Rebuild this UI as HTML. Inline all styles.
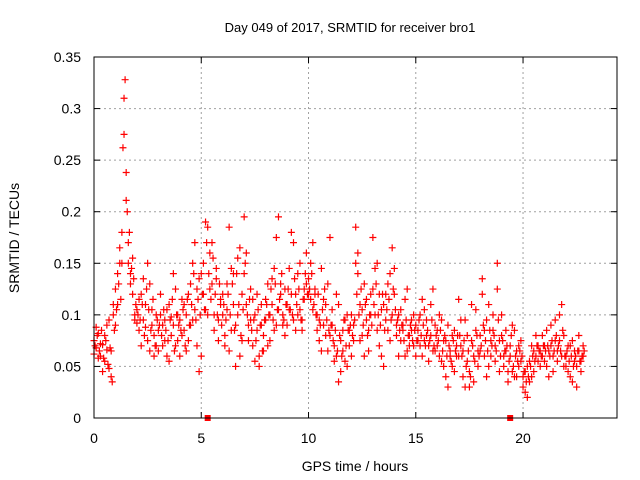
<!DOCTYPE html>
<html><head><meta charset="utf-8"><style>
body{margin:0;background:#fff}
svg{display:block;font-family:"Liberation Sans",sans-serif}
</style></head><body>
<svg id="chart" width="640" height="480">
<text x="350" y="32" font-size="13" text-anchor="middle">Day 049 of 2017, SRMTID for receiver bro1</text>
<text x="355" y="471" font-size="14" text-anchor="middle">GPS time / hours</text>
<text transform="translate(19,238) rotate(-90)" font-size="14" text-anchor="middle">SRMTID / TECUs</text>
<g id="grid"></g><g id="ticks"></g><g id="marks"></g>
<rect x="94" y="57" width="523" height="361" fill="none" stroke="#000" stroke-width="1"/>
</svg>
<script>
const xTicks=[0,5,10,15,20];
const yTicks=[0,0.05,0.1,0.15,0.2,0.25,0.3,0.35];
const yTickLabels=["0","0.05","0.1","0.15","0.2","0.25","0.3","0.35"];
const startHour=0, stepHours=0.1, offsetC=0.05;
const seriesA=[
.075,.068,.082,.060,.071,.055,.090,.048,.065,.100,
.125,.140,.165,.180,.310,.211,.150,.140,.120,.095,
.105,.085,.120,.095,.110,.075,.130,.090,.060,.100,
.085,.100,.070,.095,.060,.110,.080,.090,.125,.075,
.095,.080,.110,.065,.120,.090,.150,.105,.070,.135,
.140,.120,.105,.185,.160,.130,.100,.145,.075,.110,
.100,.080,.130,.065,.145,.110,.090,.155,.060,.120,
.195,.110,.090,.125,.070,.100,.085,.060,.110,.080,
.095,.130,.075,.110,.145,.090,.195,.120,.100,.080,
.110,.145,.180,.095,.120,.100,.150,.085,.115,.130,
.135,.115,.170,.120,.100,.075,.145,.090,.110,.065,
.175,.090,.070,.060,.110,.045,.085,.055,.100,.070,
.060,.090,.185,.140,.110,.080,.130,.095,.065,.120,
.175,.145,.085,.120,.060,.110,.095,.130,.075,.165,
.120,.090,.100,.075,.085,.115,.065,.080,.095,.070,
.060,.085,.070,.115,.075,.095,.055,.080,.125,.065,
.085,.060,.095,.050,.075,.030,.065,.080,.045,.070,
.115,.070,.040,.095,.055,.030,.075,.060,.105,.050,
.080,.135,.060,.095,.050,.075,.100,.070,.150,.045,
.100,.060,.085,.045,.070,.090,.040,.065,.050,.075,
.030,.045,.020,.055,.040,.065,.060,.070,.050,.080,
.055,.085,.040,.070,.060,.095,.065,.075,.110,.050,
.060,.045,.070,.035,.065,.050,.080,.055,.060];
const seriesB=[
.062,.088,.058,.072,.045,.080,.066,.095,.040,.110,
.090,.110,.150,.150,.275,.238,.170,.130,.155,.100,
.092,.115,.070,.135,.088,.150,.065,.105,.080,.070,
.065,.120,.090,.075,.105,.055,.098,.140,.070,.100,
.060,.115,.085,.100,.075,.130,.095,.170,.125,.045,
.060,.150,.190,.100,.125,.170,.085,.135,.095,.115,
.120,.070,.105,.185,.085,.140,.050,.100,.165,.075,
.140,.160,.075,.095,.115,.055,.120,.050,.090,.065,
.115,.070,.100,.135,.085,.175,.105,.130,.090,.125,
.090,.105,.120,.170,.085,.140,.105,.095,.125,.160,
.120,.150,.105,.125,.085,.095,.065,.115,.080,.130,
.080,.105,.055,.120,.035,.075,.065,.095,.050,.085,
.100,.075,.150,.160,.075,.105,.060,.115,.085,.100,
.125,.100,.150,.070,.105,.050,.120,.085,.140,.100,
.145,.080,.060,.105,.090,.060,.125,.070,.085,.100,
.090,.075,.100,.060,.105,.080,.070,.110,.065,.090,
.070,.100,.055,.075,.040,.090,.060,.050,.085,.060,
.060,.095,.065,.030,.080,.045,.110,.035,.085,.065,
.065,.120,.085,.040,.110,.060,.085,.055,.125,.075,
.080,.050,.065,.035,.060,.045,.085,.040,.070,.055,
.040,.025,.050,.035,.070,.045,.080,.055,.065,.060,
.070,.050,.065,.090,.045,.075,.055,.100,.060,.080,
.050,.070,.040,.075,.055,.030,.065,.045,.070];
const seriesC=[
.070,.080,.065,.085,.058,.075,.052,.068,.035,.085,
.105,.130,.115,.262,.328,.200,.180,.145,.135,.110,
.100,.095,.110,.080,.125,.105,.085,.115,.070,.095,
.090,.080,.105,.085,.075,.095,.115,.065,.100,.090,
.085,.105,.070,.115,.090,.110,.140,.095,.115,.100,
.120,.105,.170,.140,.115,.155,.120,.100,.130,.090,
.110,.095,.120,.100,.130,.085,.140,.110,.080,.105,
.150,.100,.115,.085,.095,.075,.105,.090,.065,.095,
.110,.100,.125,.095,.130,.105,.115,.140,.095,.110,
.125,.105,.100,.135,.110,.125,.095,.115,.140,.120,
.125,.140,.110,.100,.120,.090,.105,.125,.095,.085,
.090,.075,.085,.065,.080,.060,.095,.070,.085,.090,
.080,.095,.120,.100,.125,.090,.110,.080,.100,.090,
.110,.130,.100,.090,.120,.085,.105,.115,.095,.125,
.105,.095,.085,.090,.075,.095,.080,.090,.075,.085,
.075,.095,.080,.090,.070,.085,.075,.095,.070,.080,
.075,.085,.065,.080,.060,.070,.055,.075,.065,.080,
.080,.060,.075,.050,.065,.040,.070,.055,.080,.060,
.070,.090,.075,.065,.085,.070,.080,.065,.095,.060,
.075,.065,.070,.055,.080,.050,.060,.055,.065,.060,
.045,.035,.040,.050,.060,.055,.070,.065,.060,.070,
.065,.070,.060,.075,.065,.080,.070,.065,.085,.060,
.065,.055,.060,.050,.060,.065,.055,.060,.065];
const gapHours=[5.3,19.4];

const X0=94,X1=617,Y0=418,Y1=57,XMAX=24.38,YMAX=0.35;
const xs=v=>X0+v/XMAX*(X1-X0);
const ys=v=>Y0-v/YMAX*(Y0-Y1);
const NS="http://www.w3.org/2000/svg";
function mk(tag,parent,attrs){const e=document.createElementNS(NS,tag);for(const k in attrs)e.setAttribute(k,attrs[k]);parent.appendChild(e);return e;}
const grid=document.getElementById('grid'),ticks=document.getElementById('ticks'),marks=document.getElementById('marks');
xTicks.forEach(t=>{const x=xs(t);
 if(t>0){const g=mk('line',grid,{x1:x,x2:x,y1:Y1,y2:Y0,stroke:'#a0a0a0','stroke-dasharray':'2,3'});
 
 }
 mk('line',ticks,{x1:x,x2:x,y1:Y0,y2:Y0-6,stroke:'#000'});
 mk('line',ticks,{x1:x,x2:x,y1:Y1,y2:Y1+6,stroke:'#000'});
 const l=mk('text',ticks,{x:x,y:Y0+25,'font-size':14,'text-anchor':'middle'});l.textContent=t;
 
 
});
yTicks.forEach((t,i)=>{const y=ys(t);
 if(t>0&&t<YMAX){const g=mk('line',grid,{x1:X0,x2:X1,y1:y,y2:y,stroke:'#a0a0a0','stroke-dasharray':'2,3'});
 
 }
 mk('line',ticks,{x1:X0,x2:X0+6,y1:y,y2:y,stroke:'#000'});
 mk('line',ticks,{x1:X1,x2:X1-6,y1:y,y2:y,stroke:'#000'});
 const l=mk('text',ticks,{x:X0-13,y:y+5,'font-size':14,'text-anchor':'end'});l.textContent=yTickLabels[i];
 
 
});
function cross(v,t,name){const x=xs(t),y=ys(v);
 const p=mk('path',marks,{d:`M${x-3.5},${y}h7M${x},${y-3.5}v7`,stroke:'#f00','stroke-width':1.2});
 
 }
seriesA.forEach((v,i)=>cross(v,startHour+i*stepHours,'point-a'));
seriesB.forEach((v,i)=>cross(v,startHour+i*stepHours,'point-b'));
seriesC.forEach((v,i)=>cross(v,startHour+offsetC+i*stepHours,'point-c'));
gapHours.forEach(h=>{const r=mk('rect',marks,{x:xs(h)-3,y:Y0-3,width:6,height:6,fill:'#f00'});
 
 });
</script>
</body></html>
